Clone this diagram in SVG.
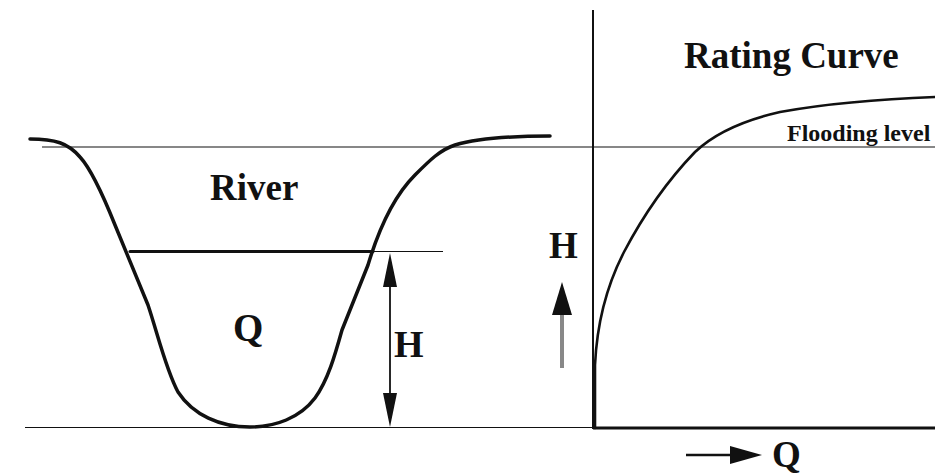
<svg xmlns="http://www.w3.org/2000/svg" width="935" height="475" viewBox="0 0 935 475">
<style>
.lbl{font-family:'Liberation Serif','DejaVu Serif',serif;font-weight:bold;fill:#111}
.thin{stroke:#111;stroke-width:1.2;fill:none}
.thick{stroke:#111;fill:none;stroke-linecap:round;stroke-linejoin:round}
</style>
<rect width="935" height="475" fill="#fff"/>
<g id="guides">
<line class="thin" x1="42" y1="147" x2="935" y2="147"/>
<line class="thin" x1="372" y1="251.5" x2="443" y2="251.5"/>
<line class="thin" x1="25" y1="427.5" x2="594" y2="427.5"/>
</g>
<g id="river">
<path class="thick" stroke-width="3.5" d="M30,139 C55,139 68,143 80,157 C92,170 105,200 115,225 L148,305 C158,335 166,370 178,392 C193,415 220,427 250,427 C275,427 300,418 315,398 C328,380 335,355 342,330 L368,265 C380,225 395,195 415,175 C430,160 440,150 455,145 C475,139 510,136 550,136"/>
<line class="thick" stroke-width="3" x1="130" y1="251.5" x2="373" y2="251.5"/>
<text class="lbl" font-family="Liberation Serif, serif" x="210" y="200" font-size="37">River</text>
<text class="lbl" font-family="Liberation Serif, serif" x="233" y="341" font-size="39">Q</text>
</g>
<g id="depth-arrow">
<line stroke="#111" stroke-width="1.8" x1="390" y1="275" x2="390" y2="405"/>
<path fill="#111" d="M390,253 L397,287 L383,287 Z"/>
<path fill="#111" d="M390,427 L397,393 L383,393 Z"/>
<text class="lbl" font-family="Liberation Serif, serif" x="394" y="357" font-size="38">H</text>
</g>
<g id="rating">
<line stroke="#111" stroke-width="2" x1="593" y1="10" x2="593" y2="429"/>
<line stroke="#111" stroke-width="3" x1="593" y1="428" x2="935" y2="428"/>
<path class="thick" stroke-width="2.6" d="M595,428 L595,365 C597,322 607,285 624,252 C644,214 668,180 695,152 C716,132 745,120 780,112 C830,103 880,99 935,97"/>
<text class="lbl" font-family="Liberation Serif, serif" x="684" y="68" font-size="37">Rating Curve</text>
<text class="lbl" font-family="Liberation Serif, serif" x="787" y="141" font-size="24">Flooding level</text>
</g>
<g id="axis-labels">
<text class="lbl" font-family="Liberation Serif, serif" x="549" y="258" font-size="37">H</text>
<line stroke="#888" stroke-width="4" x1="562" y1="368" x2="562" y2="305"/>
<path fill="#111" d="M562,282 L572,315 L552,315 Z"/>
<line stroke="#111" stroke-width="2.5" x1="686" y1="455" x2="735" y2="455"/>
<path fill="#111" d="M762,455 L730,446 L730,464 Z"/>
<text class="lbl" font-family="Liberation Serif, serif" x="772" y="467" font-size="37">Q</text>
</g>
</svg>
